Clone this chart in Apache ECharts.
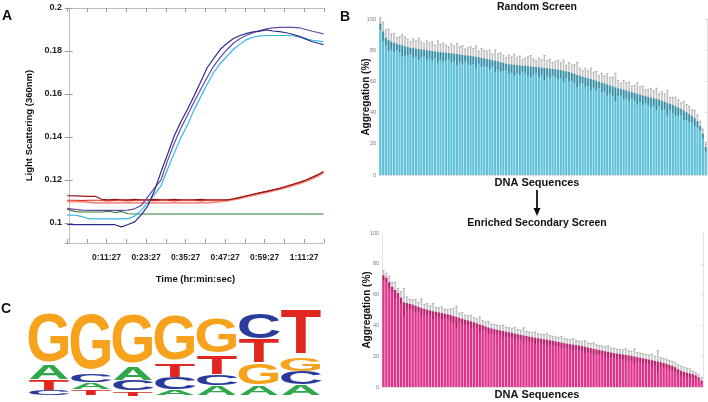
<!DOCTYPE html>
<html><head><meta charset="utf-8">
<script src="https://cdn.jsdelivr.net/npm/echarts@6/dist/echarts.min.js"></script>
<style>html,body{margin:0;padding:0;background:#fff}#c{width:708px;height:402px}</style>
</head><body><div id="c"></div>
<script>
// ---------- Panel A data (time in seconds) ----------
const timesSec = [-30,120,240,360,480,600,720,840,960,1080,1200,1320,1440,1560,1680,1800,1920,2040,2160,2280,2400,2520,2640,2760,2880,3000,3120,3240,3360,3480,3600,3720,3840,3960,4080,4200,4320,4440,4560,4640];
const navy = [0.0993,0.0992,0.0992,0.0992,0.0992,0.0992,0.0992,0.0992,0.0982,0.0993,0.1005,0.1038,0.1080,0.1150,0.1238,0.1320,0.1405,0.1470,0.1528,0.1590,0.1655,0.1722,0.1765,0.1808,0.1835,0.1858,0.1872,0.1882,0.1889,0.1892,0.1898,0.1893,0.1890,0.1885,0.1878,0.1868,0.1855,0.1843,0.1835,0.1830];
const purple = [0.1068,0.1063,0.1060,0.1059,0.1059,0.1059,0.1059,0.1059,0.1059,0.1060,0.1066,0.1082,0.1122,0.1162,0.1200,0.1290,0.1370,0.1440,0.1500,0.1562,0.1620,0.1677,0.1730,0.1770,0.1806,0.1836,0.1858,0.1873,0.1885,0.1895,0.1903,0.1908,0.1910,0.1910,0.1910,0.1908,0.1900,0.1892,0.1885,0.1880];
const lightBlue = [0.1037,0.1036,0.1030,0.1020,0.1019,0.1019,0.1019,0.1019,0.1019,0.1020,0.1032,0.1060,0.1095,0.1132,0.1173,0.1250,0.1325,0.1395,0.1455,0.1525,0.1585,0.1645,0.1700,0.1742,0.1775,0.1808,0.1832,0.1853,0.1864,0.1870,0.1872,0.1872,0.1872,0.1872,0.1871,0.1866,0.1858,0.1850,0.1846,0.1843];
const green = [0.1064,0.1053,0.1051,0.1051,0.1051,0.1051,0.1055,0.1049,0.1054,0.1043,0.1042,0.1042,0.1042,0.1042,0.1042,0.1042,0.1042,0.1042,0.1042,0.1042,0.1042,0.1042,0.1042,0.1042,0.1042,0.1042,0.1042,0.1042,0.1042,0.1042,0.1042,0.1042,0.1042,0.1042,0.1042,0.1042,0.1042,0.1042,0.1042,0.1042];
const darkRed = [0.1127,0.1126,0.1125,0.1124,0.1124,0.1110,0.1108,0.1110,0.1108,0.1108,0.1110,0.1108,0.1108,0.1110,0.1108,0.1108,0.1110,0.1108,0.1108,0.1108,0.1110,0.1108,0.1108,0.1108,0.1108,0.1113,0.1120,0.1127,0.1134,0.1141,0.1147,0.1155,0.1162,0.1171,0.1180,0.1189,0.1200,0.1214,0.1228,0.1238];
const red = [0.1106,0.1106,0.1104,0.1106,0.1106,0.1106,0.1103,0.1106,0.1106,0.1103,0.1106,0.1106,0.1106,0.1104,0.1106,0.1106,0.1103,0.1106,0.1106,0.1106,0.1103,0.1106,0.1106,0.1106,0.1106,0.1112,0.1118,0.1126,0.1133,0.1140,0.1146,0.1153,0.1160,0.1169,0.1178,0.1187,0.1199,0.1212,0.1226,0.1240];
const salmon = [0.1100,0.1100,0.1100,0.1097,0.1094,0.1094,0.1094,0.1094,0.1094,0.1094,0.1094,0.1094,0.1094,0.1094,0.1094,0.1094,0.1094,0.1094,0.1094,0.1094,0.1094,0.1094,0.1097,0.1100,0.1103,0.1109,0.1115,0.1122,0.1129,0.1136,0.1143,0.1150,0.1157,0.1165,0.1174,0.1183,0.1194,0.1207,0.1221,0.1234];
const yTicksA = [0.1,0.12,0.14,0.16,0.18,0.2];

// ---------- Panel B data ----------
const randomMean = [
97,92,88,86.5,85.5,84.8,84.2,83.6,83,82.5,
82,81.6,81.3,81,80.8,80.5,80.2,80,79.7,79.5,
79.2,79,78.8,78.6,78.4,78.2,78,77.7,77.5,77.2,
77,76.8,76.6,76.4,76.1,75.8,75.5,75.1,74.8,74.4,
74,73.6,73.2,72.8,72.3,71.8,71.3,71,70.8,70.6,
70.4,70.2,70.1,70,69.8,69.6,69.4,69.2,69,68.8,
68.6,68.4,68.2,68,67.8,67.5,67.2,66.8,66.4,66,
65.4,64.8,64.2,63.6,63,62.5,62,61.5,61,60.4,
59.8,59.2,58.6,58,57.4,56.8,56.2,55.6,55.1,54.6,
54.1,53.6,53.1,52.6,52.1,51.6,51,50.5,50,49.5,
49.2,48.7,48.2,47.6,47,46.3,45.6,44.8,44,43.2,
42.3,41.3,40.2,39,37.8,36.4,34.5,31.5,26.5,18];
const randomErr = [
4,6,5,7,5,6,4,5,7,6, 5,4,6,5,7,5,4,6,5,6, 4,7,5,6,5,4,6,5,7,5,
6,4,5,6,5,7,4,6,5,5, 6,4,7,5,6,5,4,6,5,7, 5,6,4,5,6,7,5,4,6,5,
8,5,6,4,5,6,5,7,4,6, 5,6,8,5,4,6,5,7,5,6, 4,6,5,7,5,6,9,5,4,6,
5,6,4,5,7,5,6,4,5,6, 5,7,4,6,5,8,4,5,6,5, 4,6,5,5,4,5,4,3,3,3];
const enrichedMean = [
72.5,71,68,65,63,61,58,55,54.5,54,
53.5,52.8,52,51.3,50.7,50.2,49.7,49.2,48.8,48.4,
48,47.6,47.2,46.7,46.1,45.5,44.9,44.3,43.7,43.2,
42.6,42,41.3,40.6,40,39.3,38.6,38,37.5,37.1,
36.7,36.3,35.9,35.5,35.1,34.7,34.3,33.9,33.5,33.1,
32.7,32.3,31.9,31.6,31.3,31,30.7,30.4,30,29.6,
29.2,28.8,28.4,28.1,27.8,27.5,27.2,26.9,26.6,26.2,
25.7,25.2,24.8,24.4,24,23.6,23.2,22.8,22.4,22,
21.7,21.4,21.1,20.8,20.5,20.2,19.8,19.4,19,18.6,
18.2,17.8,17.4,17,16.6,16.1,15.6,15,14.3,13.6,
12.8,11.5,10.5,9.8,9.3,8.8,8.4,7.6,6.2,4.2];
const enrichedErr = [
3,3,4,3,5,3,4,9,4,3, 3,4,3,6,3,4,3,5,3,3, 4,3,3,4,5,7,3,4,3,3,
4,3,3,5,3,3,4,3,3,3, 3,4,3,3,3,4,3,3,5,3, 3,3,4,3,3,3,4,3,3,3,
3,4,3,3,3,4,3,3,3,4, 3,3,4,3,3,3,3,4,3,3, 3,3,3,4,3,3,5,3,3,3,
3,3,4,3,7,3,3,3,3,3, 3,3,3,3,3,3,2,2,2,2];
const aggTicks = [0,20,40,60,80,100];

// ---------- Panel C data (bits per position) ----------
const logoPositions = ['1','2','3','4','5','6','7'];
const logoA = [0.34,0.17,0.31,0.12,0.22,0.22,0.24];
const logoC = [0.12,0.19,0.26,0.30,0.26,0.62,0.32];
const logoG = [1.22,1.40,1.22,1.12,0.86,0.54,0.34];
const logoT = [0.24,0.14,0.10,0.33,0.46,0.56,1.10];

const FONT = 'Liberation Sans';
const chart = echarts.init(document.getElementById('c'));

function fmtTime(v){
  const h = Math.floor(v/3600), m = Math.floor((v%3600)/60), s = Math.round(v%60);
  return h + ':' + String(m).padStart(2,'0') + ':' + String(s).padStart(2,'0');
}

const lineDefs = [
  {d: salmon, c:'#f3928a', w:2},
  {d: red, c:'#e2321f', w:1.1},
  {d: darkRed, c:'#921616', w:1.1},
  {d: green, c:'#2a7a2e', w:1.1},
  {d: lightBlue, c:'#34b4ea', w:1.2},
  {d: purple, c:'#6c47a8', w:1.2},
  {d: navy, c:'#2b2d8e', w:1.2}
];
const lineSeries = lineDefs.map(s => ({
  type:'line', xAxisIndex:0, yAxisIndex:0,
  data: timesSec.map((t,i)=>[t, s.d[i]]),
  showSymbol:false, symbol:'none',
  lineStyle:{color:s.c, width:s.w}, itemStyle:{color:s.c}
}));

function errSeries(ai, means, errs, upColor, lowColor){
  return {
    type:'custom', xAxisIndex:ai, yAxisIndex:ai, z:5,
    data: means.map((m,i)=>[i, m-errs[i], m, m+errs[i]]),
    renderItem:(params, api)=>{
      const lo = api.coord([api.value(0), api.value(1)]);
      const mid = api.coord([api.value(0), api.value(2)]);
      const hi = api.coord([api.value(0), api.value(3)]);
      const w = api.size([1,0])[0]*0.9;
      return {type:'group', children:[
        {type:'line', shape:{x1:lo[0],y1:lo[1],x2:mid[0],y2:mid[1]}, style:{stroke:lowColor,lineWidth:1.4}},
        {type:'line', shape:{x1:mid[0],y1:mid[1],x2:hi[0],y2:hi[1]}, style:{stroke:upColor,lineWidth:1.6}},
        {type:'line', shape:{x1:hi[0]-w/2,y1:hi[1],x2:hi[0]+w/2,y2:hi[1]}, style:{stroke:upColor,lineWidth:1}}
      ]};
    }
  };
}

const logoColor = {A:'#2fa84b', C:'#2b3b9c', G:'#f6a21c', T:'#e0261f'};
const logoInkW = {A:0.72, C:0.66, G:0.70, T:0.61};
const logoCapH = {A:0.716, C:0.74, G:0.74, T:0.716};
const logoLetters = ['A','C','G','T'];
const logoHeights = {A:logoA, C:logoC, G:logoG, T:logoT};
const logoData = [];
logoPositions.forEach((p, i) => {
  const items = logoLetters.map((L, k) => [k, logoHeights[L][i]]).sort((a,b)=>a[1]-b[1]);
  let y0 = 0;
  items.forEach(([k, h]) => { logoData.push([i, y0, y0+h, k]); y0 += h; });
});

const bAxisLine = {lineStyle:{color:'#e2e2e2', width:1}};
const bLabel = {fontSize:5.5, color:'#777', fontFamily:FONT, margin:3};
const bName = {fontFamily:FONT, fontWeight:'bold', fontSize:10, color:'#111'};
const frameA = {lineStyle:{color:'#bdbdbd', width:1}};
const tickA = {show:true, inside:true, length:4, lineStyle:{color:'#999'}};

const option = {
  animation:false,
  backgroundColor:'#fff',
  grid:[
    {left:67, top:8, width:257, height:235},
    {left:379, top:19, width:328, height:156},
    {left:382, top:233, width:321, height:154},
    {left:28, top:313, width:294, height:83}
  ],
  xAxis:[
    {type:'value', gridIndex:0, min:-33, max:4650, interval:360,
     axisLine:Object.assign({show:true}, frameA), axisTick:tickA, splitLine:{show:false},
     axisLabel:{fontFamily:FONT, fontWeight:'bold', fontSize:8.5, color:'#222', margin:10,
       formatter:(v)=> (v>0 && Math.abs(((v+33)%720))<1e-6) ? fmtTime(v) : ''},
     name:'Time (hr:min:sec)', nameLocation:'middle', nameGap:31, nameMoveOverlap:false,
     nameTextStyle:{fontFamily:FONT, fontWeight:'bold', fontSize:9.5, color:'#111'}},
    {type:'category', gridIndex:1, data:randomMean.map((v,i)=>String(i+1)),
     axisLine:Object.assign({show:true}, bAxisLine), axisTick:{show:false}, axisLabel:{show:false}},
    {type:'category', gridIndex:2, data:enrichedMean.map((v,i)=>String(i+1)),
     axisLine:Object.assign({show:true}, bAxisLine), axisTick:{show:false}, axisLabel:{show:false}},
    {type:'category', gridIndex:3, data:logoPositions, show:false},
    {type:'value', gridIndex:0, position:'top', min:-33, max:4650, interval:360,
     axisLine:Object.assign({show:true}, frameA), axisTick:tickA, axisLabel:{show:false}, splitLine:{show:false}},
    {type:'category', gridIndex:1, position:'top', data:randomMean.map((v,i)=>String(i+1)),
     axisLine:Object.assign({show:true}, bAxisLine), axisTick:{show:false}, axisLabel:{show:false}},
    {type:'category', gridIndex:2, position:'top', data:enrichedMean.map((v,i)=>String(i+1)),
     axisLine:Object.assign({show:true}, bAxisLine), axisTick:{show:false}, axisLabel:{show:false}}
  ],
  yAxis:[
    {type:'value', gridIndex:0, min:0.0907, max:0.2, splitNumber:5,
     axisLine:Object.assign({show:true}, frameA), axisTick:tickA, splitLine:{show:false},
     axisLabel:{fontFamily:FONT, fontWeight:'bold', fontSize:9, color:'#222', margin:5, showMinLabel:false,
       formatter:(v)=> yTicksA.some(t=>Math.abs(t-v)<1e-6) ? String(+v.toFixed(2)) : ''},
     name:'Light Scattering (360nm)', nameLocation:'middle', nameGap:33, nameMoveOverlap:false,
     nameTextStyle:{fontFamily:FONT, fontWeight:'bold', fontSize:9.5, color:'#111'}},
    {type:'value', gridIndex:1, min:0, max:100, interval:20,
     axisLine:Object.assign({show:true}, bAxisLine), axisTick:{show:false}, splitLine:{show:false},
     axisLabel:Object.assign({formatter:(v)=> aggTicks.includes(v)? String(v):''}, bLabel),
     name:'Aggregation (%)', nameLocation:'middle', nameGap:8, nameMoveOverlap:false, nameTextStyle:bName},
    {type:'value', gridIndex:2, min:0, max:100, interval:20,
     axisLine:Object.assign({show:true}, bAxisLine), axisTick:{show:false}, splitLine:{show:false},
     axisLabel:Object.assign({formatter:(v)=> aggTicks.includes(v)? String(v):''}, bLabel),
     name:'Aggregation (%)', nameLocation:'middle', nameGap:10, nameMoveOverlap:false, nameTextStyle:bName},
    {type:'value', gridIndex:3, min:0, max:2, show:false},
    {type:'value', gridIndex:0, position:'right', min:0.0907, max:0.2, splitNumber:5,
     axisLine:Object.assign({show:true}, frameA), axisTick:tickA, axisLabel:{show:false}, splitLine:{show:false}},
    {type:'value', gridIndex:1, position:'right', min:0, max:100, interval:20,
     axisLine:Object.assign({show:true}, bAxisLine), axisTick:{show:true, inside:true, length:2, lineStyle:{color:'#ddd'}}, axisLabel:{show:false}, splitLine:{show:false}},
    {type:'value', gridIndex:2, position:'right', min:0, max:100, interval:20,
     axisLine:Object.assign({show:true}, bAxisLine), axisTick:{show:true, inside:true, length:2, lineStyle:{color:'#ddd'}}, axisLabel:{show:false}, splitLine:{show:false}}
  ],
  series:[
    ...lineSeries,
    {type:'bar', xAxisIndex:1, yAxisIndex:1, data:randomMean, barCategoryGap:'18%',
     itemStyle:{color:'#5fc1d8'}},
    errSeries(1, randomMean, randomErr, 'rgba(120,120,120,0.45)', 'rgba(30,60,70,0.45)'),
    {type:'bar', xAxisIndex:2, yAxisIndex:2, data:enrichedMean, barCategoryGap:'18%',
     itemStyle:{color:'#e1338c'}},
    errSeries(2, enrichedMean, enrichedErr, 'rgba(120,120,120,0.45)', 'rgba(70,20,45,0.4)'),
    {type:'custom', xAxisIndex:3, yAxisIndex:3, data:logoData,
     renderItem:(params, api)=>{
       const L = logoLetters[api.value(3)];
       const p0 = api.coord([api.value(0), api.value(1)]);
       const p1 = api.coord([api.value(0), api.value(2)]);
       const bw = api.size([1,0])[0]*0.97;
       const h = p0[1]-p1[1];
       const F = 100;
       return {type:'text', x:p0[0], y:(p0[1]+p1[1])/2,
         scaleX: bw/(logoInkW[L]*F), scaleY: h/(logoCapH[L]*F),
         style:{text:L, fontSize:F, fontFamily:FONT, fontWeight:'bold', fill:logoColor[L],
           align:'center', verticalAlign:'middle', textAlign:'center', textVerticalAlign:'middle'}};
     }}
  ],
  graphic:[
    {type:'text', x:2, y:9, style:{text:'A', font:'bold 14px "Liberation Sans"', fill:'#111'}},
    {type:'text', x:340, y:10, style:{text:'B', font:'bold 14px "Liberation Sans"', fill:'#111'}},
    {type:'text', x:1, y:302, style:{text:'C', font:'bold 14px "Liberation Sans"', fill:'#111'}},
    {type:'text', x:537, y:7, style:{text:'Random Screen', font:'bold 10.5px "Liberation Sans"', fill:'#111', align:'center', verticalAlign:'middle', textAlign:'center', textVerticalAlign:'middle'}},
    {type:'text', x:537, y:223, style:{text:'Enriched Secondary Screen', font:'bold 10.5px "Liberation Sans"', fill:'#111', align:'center', verticalAlign:'middle', textAlign:'center', textVerticalAlign:'middle'}},
    {type:'text', x:537, y:183, style:{text:'DNA Sequences', font:'bold 11px "Liberation Sans"', fill:'#111', align:'center', verticalAlign:'middle', textAlign:'center', textVerticalAlign:'middle'}},
    {type:'text', x:537, y:395, style:{text:'DNA Sequences', font:'bold 11px "Liberation Sans"', fill:'#111', align:'center', verticalAlign:'middle', textAlign:'center', textVerticalAlign:'middle'}},
    {type:'line', shape:{x1:537, y1:190, x2:537, y2:210}, style:{stroke:'#111', lineWidth:1.8}},
    {type:'polygon', shape:{points:[[533.5,208],[540.5,208],[537,216]]}, style:{fill:'#111'}}
  ]
};
chart.setOption(option);
</script></body></html>
